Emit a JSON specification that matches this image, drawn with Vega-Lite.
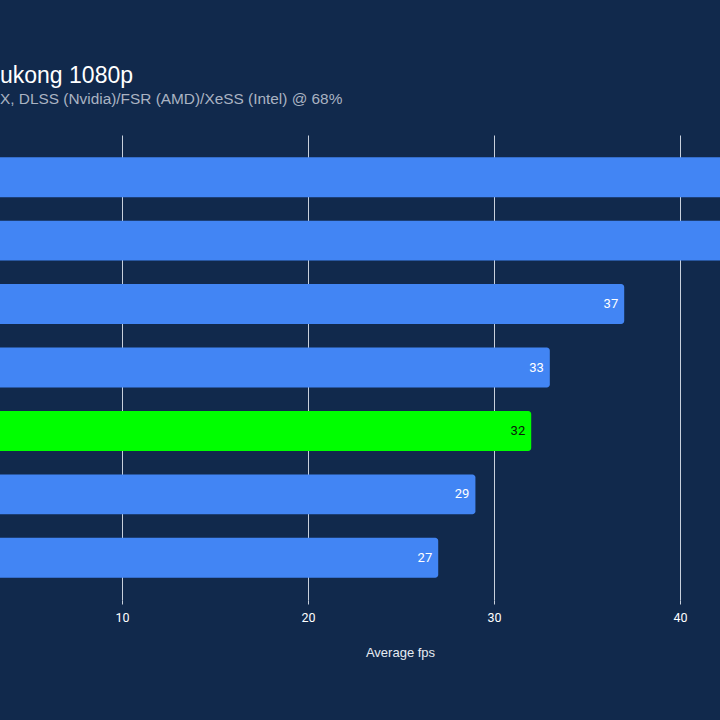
{
  "$schema": "https://vega.github.io/schema/vega-lite/v6.json",
  "width": 720,
  "height": 465,
  "autosize": {"type": "none"},
  "padding": {"top": 135, "left": 0, "right": 0, "bottom": 120},
  "background": "#11294c",
  "title": {
    "text": "ukong 1080p",
    "subtitle": "X, DLSS (Nvidia)/FSR (AMD)/XeSS (Intel) @ 68%",
    "anchor": "start",
    "frame": "group",
    "offset": 28,
    "font": "Liberation Sans",
    "fontSize": 23,
    "fontWeight": "normal",
    "color": "#ffffff",
    "subtitleFont": "Liberation Sans",
    "subtitleFontSize": 15.4,
    "subtitleColor": "#aab3c2",
    "subtitlePadding": 4
  },
  "data": {
    "values": [
      {"gpu": "GPU 1", "fps": 48, "highlight": "no"},
      {"gpu": "GPU 2", "fps": 46, "highlight": "no"},
      {"gpu": "GPU 3", "fps": 37, "highlight": "no"},
      {"gpu": "GPU 4", "fps": 33, "highlight": "no"},
      {"gpu": "GPU 5", "fps": 32, "highlight": "yes"},
      {"gpu": "GPU 6", "fps": 29, "highlight": "no"},
      {"gpu": "GPU 7", "fps": 27, "highlight": "no"}
    ]
  },
  "encoding": {
    "y": {
      "field": "gpu",
      "type": "nominal",
      "sort": null,
      "axis": null,
      "scale": {"paddingInner": 0.37, "paddingOuter": 0.35}
    },
    "x": {
      "field": "fps",
      "type": "quantitative",
      "stack": null,
      "scale": {"domain": [3.44, 42.15], "zero": false, "nice": false},
      "axis": {
        "values": [10, 20, 30, 40],
        "title": "Average fps",
        "titleX": 400,
        "titleFont": "Liberation Sans",
        "titleFontSize": 13,
        "titleFontWeight": "normal",
        "titleColor": "#e6ebf2",
        "titlePadding": 23,
        "labelFont": "Roboto",
        "labelFontSize": 12.5,
        "labelColor": "#ffffff",
        "labelPadding": 7,
        "domain": false,
        "ticks": true,
        "tickColor": "#c8d0dc",
        "tickSize": 4,
        "grid": true,
        "gridColor": "#c8d0dc",
        "gridWidth": 1
      }
    }
  },
  "layer": [
    {
      "mark": {"type": "bar", "clip": true, "cornerRadiusEnd": 3},
      "encoding": {
        "x2": {"datum": 0},
        "color": {
          "field": "highlight",
          "type": "nominal",
          "scale": {"domain": ["no", "yes"], "range": ["#4285f4", "#00ff00"]},
          "legend": null
        }
      }
    },
    {
      "transform": [{"filter": "datum.fps < 42"}],
      "mark": {"type": "text", "align": "right", "dx": -6, "font": "Roboto", "fontSize": 13},
      "encoding": {
        "text": {"field": "fps", "type": "quantitative"},
        "color": {
          "field": "highlight",
          "type": "nominal",
          "scale": {"domain": ["no", "yes"], "range": ["#ffffff", "#0a1a0a"]},
          "legend": null
        }
      }
    }
  ],
  "resolve": {"scale": {"color": "independent"}},
  "config": {"view": {"stroke": null}}
}
